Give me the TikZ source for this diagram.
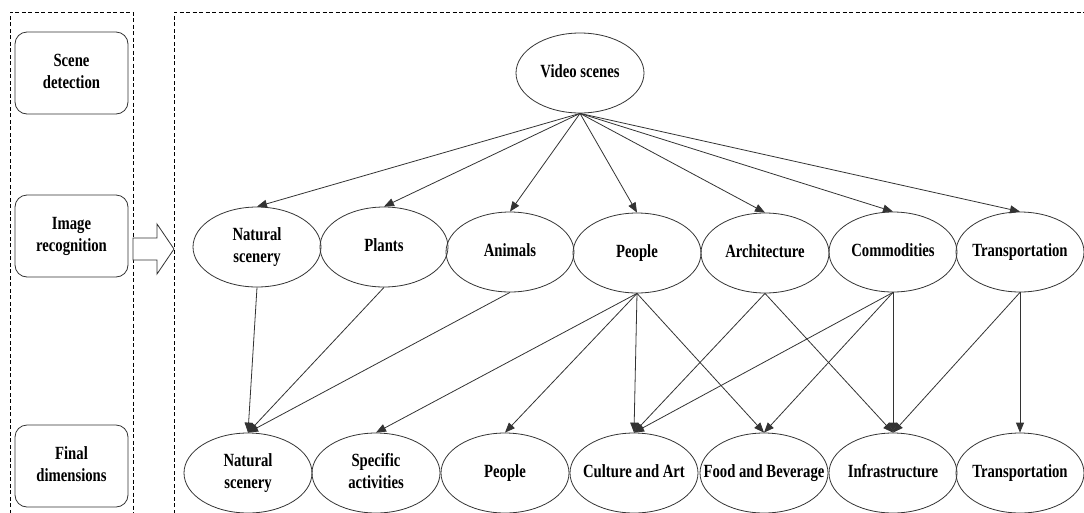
\documentclass[tikz,border=0pt]{standalone}
\usepackage{fontspec}
\newfontfamily\dfont{Liberation Serif}[FakeStretch=0.79]
\usetikzlibrary{shapes.geometric,arrows.meta}
\definecolor{linec}{HTML}{333333}
\newcommand{\mtx}[1]{\makebox[0pt]{\begin{tabular}{@{}c@{}}#1\end{tabular}}}
\begin{document}
\begin{tikzpicture}[x=1pt,y=-1pt,
  ell/.style={ellipse,draw=linec,line width=0.8pt,minimum width=128pt,minimum height=80pt,inner sep=0pt,
    font=\dfont\bfseries\fontsize{18.6}{22.5}\selectfont},
  sidebox/.style={draw=linec,line width=0.8pt,rounded corners=12pt,minimum width=113pt,minimum height=82pt,inner sep=0pt,
    font=\dfont\bfseries\fontsize{18.6}{22.5}\selectfont},
  edge/.style={draw=linec,line width=0.8pt,-{Triangle[length=10pt,width=8pt]}},
  frame/.style={draw=black,line width=0.8pt,dash pattern=on 4pt off 2.5pt}]
\useasboundingbox (0,0) rectangle (1084,512);
\clip (0,0) rectangle (1084,512);
% dashed frames
\draw[frame] (10,520) -- (10,12) -- (133,12) -- (133,520);
\draw[frame] (174,520) -- (174,12) -- (1090,12);
% side boxes
\node[sidebox] (sd) at (71.5,73) {\mtx{Scene\\detection}};
\node[sidebox] (ir) at (71.5,236) {\mtx{Image\\recognition}};
\node[sidebox] (fd) at (71.5,466) {\mtx{Final\\dimensions}};
% block arrow
\draw[draw=linec,line width=0.8pt,fill=white] (133,238) -- (157,238) -- (157,224) -- (174,249) -- (157,274) -- (157,260) -- (133,260) -- cycle;
% top
\node[ell] (vs) at (580,73) {\mtx{Video scenes}};
% middle row
\node[ell] (mns) at (257,247) {\mtx{Natural\\scenery}};
\node[ell] (mpl) at (384,247) {\mtx{Plants}};
\node[ell] (man) at (510,252) {\mtx{Animals}};
\node[ell] (mpe) at (637,253) {\mtx{People}};
\node[ell] (mar) at (765,253) {\mtx{Architecture}};
\node[ell] (mco) at (893,252) {\mtx{Commodities}};
\node[ell] (mtr) at (1020,252) {\mtx{Transportation}};
% bottom row
\node[ell] (bns) at (248,473) {\mtx{Natural\\scenery}};
\node[ell] (bsa) at (376,473) {\mtx{Specific\\activities}};
\node[ell] (bpe) at (505,473) {\mtx{People}};
\node[ell] (bca) at (634,473) {\mtx{Culture and Art}};
\node[ell] (bfb) at (764,473) {\mtx{Food and Beverage}};
\node[ell] (bin) at (893,473) {\mtx{Infrastructure}};
\node[ell] (btr) at (1020,473) {\mtx{Transportation}};
% edges top -> middle
\foreach \t in {mns,mpl,man,mpe,mar,mco,mtr}
  \draw[edge] (vs.south) -- (\t.north);
% edges middle -> bottom
\draw[edge] (mns.south) -- (bns.north);
\draw[edge] (mpl.south) -- (bns.north);
\draw[edge] (man.south) -- (bns.north);
\draw[edge] (mpe.south) -- (bsa.north);
\draw[edge] (mpe.south) -- (bpe.north);
\draw[edge] (mpe.south) -- (bca.north);
\draw[edge] (mpe.south) -- (bfb.north);
\draw[edge] (mar.south) -- (bca.north);
\draw[edge] (mar.south) -- (bin.north);
\draw[edge] (mco.south) -- (bca.north);
\draw[edge] (mco.south) -- (bfb.north);
\draw[edge] (mco.south) -- (bin.north);
\draw[edge] (mtr.south) -- (bin.north);
\draw[edge] (mtr.south) -- (btr.north);
\end{tikzpicture}
\end{document}
